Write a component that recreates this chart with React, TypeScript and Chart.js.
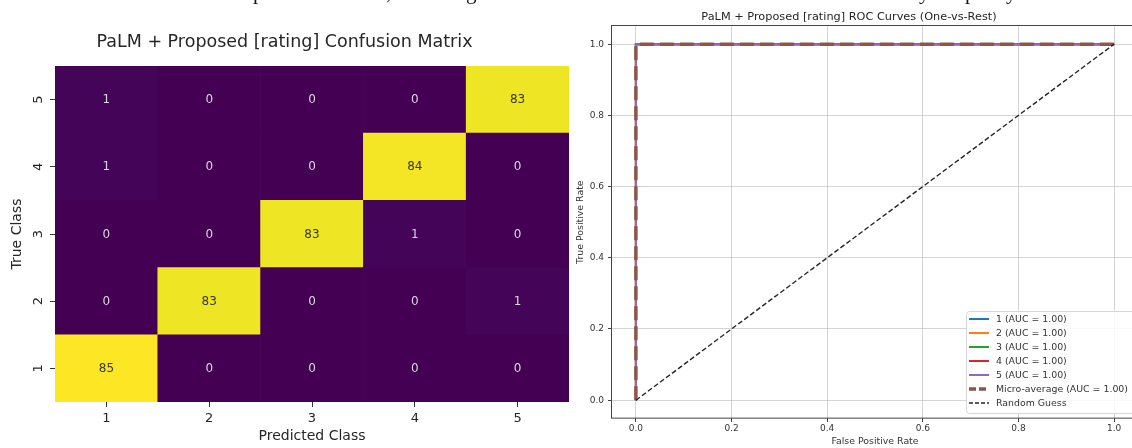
import React, { useEffect, useRef } from "react";
import { Chart, registerables } from "chart.js";

Chart.register(...registerables);

// ---------------- data ----------------
const predictedClasses = ["1", "2", "3", "4", "5"];
const trueClasses = [1, 2, 3, 4, 5];
const trueClass1 = [85, 0, 0, 0, 0];
const trueClass2 = [0, 83, 0, 0, 1];
const trueClass3 = [0, 0, 83, 1, 0];
const trueClass4 = [1, 0, 0, 84, 0];
const trueClass5 = [1, 0, 0, 0, 83];
const confusionRows = [trueClass1, trueClass2, trueClass3, trueClass4, trueClass5];

const rocClassLabels = ["1", "2", "3", "4", "5"];
const rocAuc = [1.0, 1.0, 1.0, 1.0, 1.0];
const rocFpr = [0, 0, 1];
const rocTpr = [0, 1, 1];
const microAuc = 1.0;
const microFpr = [0, 0, 1];
const microTpr = [0, 1, 1];
const chanceFpr = [0, 1];
const chanceTpr = [0, 1];
const rocTicks = [0, 0.2, 0.4, 0.6, 0.8, 1.0];

const heatTitle = "PaLM + Proposed [rating] Confusion Matrix";
const rocTitle = "PaLM + Proposed [rating] ROC Curves (One-vs-Rest)";

// ---------------- styles ----------------
const FONT = "'DejaVu Sans', sans-serif";
const VIRIDIS = [
  [68, 1, 84], [72, 36, 117], [65, 68, 135], [53, 95, 141], [42, 120, 142],
  [33, 145, 140], [34, 168, 132], [68, 191, 112], [122, 209, 81], [189, 223, 38], [253, 231, 37],
];
function viridis(t: number): string {
  const c = Math.max(0, Math.min(1, t)) * (VIRIDIS.length - 1);
  const i = Math.min(VIRIDIS.length - 2, Math.floor(c));
  const f = c - i;
  const a = VIRIDIS[i], b = VIRIDIS[i + 1];
  const m = (k: number) => Math.round(a[k] + (b[k] - a[k]) * f);
  return `rgb(${m(0)},${m(1)},${m(2)})`;
}
const rocColors = ["#1f77b4", "#ff7f0e", "#2ca02c", "#d62728", "#9467bd"];

// ---------------- plugins ----------------
const cellLabelsPlugin = {
  id: "cellLabels",
  afterDatasetsDraw(chart: any) {
    const ctx = chart.ctx;
    ctx.save();
    ctx.font = `12px ${FONT}`;
    ctx.textAlign = "center";
    ctx.textBaseline = "middle";
    chart.data.datasets.forEach((ds: any, di: number) => {
      const meta = chart.getDatasetMeta(di);
      meta.data.forEach((el: any, j: number) => {
        const v = ds.counts[j];
        const p = el.getProps(["x", "y", "base"], true);
        ctx.fillStyle = v / ds.vmax > 0.5 ? "#3a3720" : "#ddd5e4";
        ctx.fillText(String(v), p.x, (p.y + p.base) / 2 + 0.5);
      });
    });
    ctx.restore();
  },
};

const spinesPlugin = {
  id: "spines",
  afterDatasetsDraw(chart: any) {
    const { ctx, chartArea: a } = chart;
    ctx.save();
    ctx.strokeStyle = "#444";
    ctx.lineWidth = 1;
    ctx.strokeRect(Math.round(a.left) - 0.5, Math.round(a.top) - 0.5, a.right - a.left + 1, a.bottom - a.top + 1);
    ctx.restore();
  },
};

const rocLegendPlugin = {
  id: "rocLegend",
  afterDraw(chart: any) {
    const { ctx, chartArea: a } = chart;
    const items = chart.data.datasets.map((d: any) => d);
    ctx.save();
    ctx.font = `9.4px ${FONT}`;
    const textW = Math.max(...items.map((d: any) => ctx.measureText(d.label).width));
    const rowH = 14;
    const w = 3 + 20 + 7 + textW + 9;
    const h = items.length * rowH + 4;
    const right = a.right - 1;
    const bottom = a.bottom - 5;
    const left = right - w;
    const top = bottom - h;
    ctx.fillStyle = "rgba(255,255,255,0.85)";
    ctx.strokeStyle = "#d6d6d6";
    ctx.lineWidth = 1;
    ctx.beginPath();
    (ctx as any).roundRect(Math.round(left) + 0.5, Math.round(top) + 0.5, w, h, 3);
    ctx.fill();
    ctx.stroke();
    items.forEach((d: any, i: number) => {
      const cy = Math.round(top) + 1 + 7 + i * rowH;
      ctx.beginPath();
      ctx.strokeStyle = d.borderColor;
      ctx.lineWidth = d.borderWidth;
      ctx.setLineDash(d.legendDash || []);
      ctx.moveTo(Math.round(left) + 3, cy);
      ctx.lineTo(Math.round(left) + 23, cy);
      ctx.stroke();
      ctx.setLineDash([]);
      ctx.fillStyle = "#333";
      ctx.textAlign = "left";
      ctx.textBaseline = "middle";
      ctx.fillText(d.label, Math.round(left) + 30, cy + 0.5);
    });
    ctx.restore();
  },
};

// ---------------- charts ----------------
function HeatmapChart() {
  const ref = useRef<HTMLCanvasElement>(null);
  useEffect(() => {
    if (!ref.current) return;
    const vmax = Math.max(...confusionRows.flat());
    const datasets = confusionRows.map((row, i) => ({
      label: `True ${trueClasses[i]}`,
      data: row.map(() => [trueClasses[i] - 0.5, trueClasses[i] + 0.5]),
      counts: row,
      vmax,
      backgroundColor: row.map((v) => viridis(v / vmax)),
      borderWidth: 0,
      barPercentage: 1,
      categoryPercentage: 1,
      grouped: false,
    }));
    const chart = new Chart(ref.current, {
      type: "bar",
      data: { labels: predictedClasses, datasets: datasets as any },
      options: {
        animation: false,
        responsive: false,
        layout: { padding: { left: 0, right: 11, top: 0, bottom: 0 } },
        plugins: {
          legend: { display: false },
          tooltip: { enabled: false },
          title: {
            display: true,
            text: heatTitle,
            color: "#262626",
            font: { family: FONT, size: 17.5, weight: "normal" },
            padding: { top: 31.5, bottom: 13.5 },
          },
        },
        scales: {
          x: {
            type: "category",
            offset: true,
            border: { display: false },
            grid: { display: true, drawOnChartArea: false, drawTicks: true, tickLength: 5, tickColor: "#333", offset: false },
            ticks: { color: "#262626", font: { family: FONT, size: 13 }, padding: 3.5 },
            title: { display: true, text: "Predicted Class", color: "#262626", font: { family: FONT, size: 14 }, padding: { top: 0, bottom: 3.5 } },
            afterFit: (s: any) => { s.height = 46; },
          },
          y: {
            type: "linear",
            min: 0.5,
            max: 5.5,
            border: { display: false },
            afterBuildTicks: (s: any) => { s.ticks = trueClasses.map((v) => ({ value: v })); },
            grid: { display: true, drawOnChartArea: false, drawTicks: true, tickLength: 5, tickColor: "#333" },
            ticks: { color: "#262626", font: { family: FONT, size: 13 }, padding: 7, minRotation: 90, maxRotation: 90, crossAlign: "center", callback: (v: any) => String(v) },
            title: { display: true, text: "True Class", color: "#262626", font: { family: FONT, size: 14 }, padding: { top: 8.6, bottom: 0 } },
            afterFit: (s: any) => { s.width = 55; },
          },
        },
      } as any,
      plugins: [cellLabelsPlugin],
    });
    return () => chart.destroy();
  }, []);
  return <canvas ref={ref} width={580} height={448} style={{ position: "absolute", left: 0, top: 0, width: 580, height: 448 }} />;
}

function RocChart() {
  const ref = useRef<HTMLCanvasElement>(null);
  useEffect(() => {
    if (!ref.current) return;
    const classSets = rocClassLabels.map((c, i) => ({
      label: `${c} (AUC = ${rocAuc[i].toFixed(2)})`,
      data: rocFpr.map((x, k) => ({ x, y: rocTpr[k] })),
      borderColor: rocColors[i],
      backgroundColor: rocColors[i],
      borderWidth: 2,
      pointRadius: 0,
      tension: 0,
      fill: false,
      order: 7 - i,
    }));
    const micro = {
      label: `Micro-average (AUC = ${microAuc.toFixed(2)})`,
      data: microFpr.map((x, k) => ({ x, y: microTpr[k] })),
      borderColor: "#8c564b",
      backgroundColor: "#8c564b",
      borderWidth: 3.5,
      borderDash: [14, 6],
      legendDash: [7, 3],
      pointRadius: 0,
      tension: 0,
      fill: false,
      order: 1,
    };
    const chance = {
      label: "Random Guess",
      data: chanceFpr.map((x, k) => ({ x, y: chanceTpr[k] })),
      borderColor: "#262626",
      backgroundColor: "#262626",
      borderWidth: 1.4,
      borderDash: [5, 2.5],
      legendDash: [4, 2],
      pointRadius: 0,
      tension: 0,
      fill: false,
      order: 0,
    };
    const tickCfg = { color: "#333", font: { family: FONT, size: 9 } };
    const gridCfg = { color: "rgba(176,176,176,0.55)", lineWidth: 1, drawTicks: true, tickLength: 4, tickColor: "#444" };
    const chart = new Chart(ref.current, {
      type: "line",
      data: { datasets: [...classSets, micro, chance] as any },
      options: {
        animation: false,
        responsive: false,
        layout: { padding: { left: 0, right: 12, top: 0, bottom: 0 } },
        plugins: {
          legend: { display: false },
          tooltip: { enabled: false },
          title: {
            display: true,
            text: rocTitle,
            color: "#262626",
            font: { family: FONT, size: 11.3, weight: "normal" },
            padding: { top: 10.4, bottom: 2.4 },
          },
        },
        scales: {
          x: {
            type: "linear",
            min: -0.05,
            max: 1.05,
            border: { display: false },
            afterBuildTicks: (s: any) => { s.ticks = rocTicks.map((v) => ({ value: v })); },
            grid: gridCfg,
            ticks: { ...tickCfg, padding: 1.5, callback: (v: any) => Number(v).toFixed(1) },
            title: { display: true, text: "False Positive Rate", color: "#333", font: { family: FONT, size: 9.4 }, padding: { top: 0, bottom: 0.5 } },
            afterFit: (s: any) => { s.height = 30; },
          },
          y: {
            type: "linear",
            min: -0.05,
            max: 1.05,
            border: { display: false },
            afterBuildTicks: (s: any) => { s.ticks = rocTicks.map((v) => ({ value: v })); },
            grid: gridCfg,
            ticks: { ...tickCfg, padding: 4, callback: (v: any) => Number(v).toFixed(1) },
            title: { display: true, text: "True Positive Rate", color: "#333", font: { family: FONT, size: 9.4 }, padding: { top: 15.4, bottom: 0 } },
            afterFit: (s: any) => { s.width = 52; },
          },
        },
      } as any,
      plugins: [spinesPlugin, rocLegendPlugin],
    });
    return () => chart.destroy();
  }, []);
  return <canvas ref={ref} width={590} height={448} style={{ position: "absolute", left: 560, top: 0, width: 590, height: 448 }} />;
}

// Cut-off line of body text above the figures (only descenders visible)
const clippedGlyphs = [
  { ch: "p", x: 253 },
  { ch: ",", x: 386 },
  { ch: "g", x: 466 },
  { ch: "y", x: 919 },
  { ch: "p", x: 965 },
  { ch: "y", x: 1006 },
];

export default function App() {
  return (
    <div style={{ position: "fixed", left: 0, top: 0, width: 1132, height: 448, overflow: "hidden", background: "#fff" }}>
      {clippedGlyphs.map((g, i) => (
        <span
          key={i}
          style={{ position: "absolute", left: g.x, top: -18.5, fontFamily: "'Liberation Serif', serif", fontSize: 21, lineHeight: "21px", color: "#111", willChange: "transform", opacity: 0.99 }}
        >
          {g.ch}
        </span>
      ))}
      <HeatmapChart />
      <RocChart />
    </div>
  );
}
